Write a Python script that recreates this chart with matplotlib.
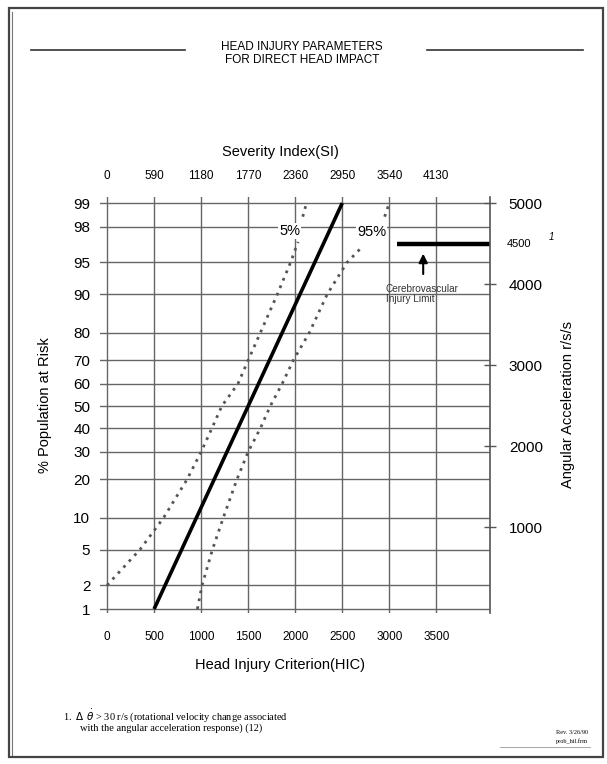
import numpy as np
import matplotlib
matplotlib.use("Agg")
from matplotlib import pyplot as plt
from matplotlib.patches import Rectangle
from statistics import NormalDist

# values
pct_ticks = [1, 2, 5, 10, 20, 30, 40, 50, 60, 70, 80, 90, 95, 98, 99]
hic_ticks = [0, 500, 1000, 1500, 2000, 2500, 3000, 3500]
si_ticks = [0, 590, 1180, 1770, 2360, 2950, 3540, 4130]
acc_ticks = [1000, 2000, 3000, 4000, 5000]

# 50% (mean) curve
hic_mean = [500, 2500]
pct_mean = [1, 99]

# 5% confidence curve (lower part and short upper piece)
hic_5 = [0, 350, 600, 850, 1000, 1115, 1220, 1390, 1500, 1630, 1810, 1950, 2030]
pct_5 = [2, 5, 10, 20, 30, 40, 50, 60, 70, 80, 90, 95, 97]
hic_5_top = [2080, 2120]
pct_5_top = [98.5, 99]

# 95% confidence curve
hic_95 = [960, 1010, 1120, 1235, 1380, 1500, 1630, 1735, 1860, 1980, 2150, 2340, 2550, 2700]
pct_95 = [1, 2, 5, 10, 20, 30, 40, 50, 60, 70, 80, 90, 95, 96.5]
hic_95_top = [2950, 3000]
pct_95_top = [98.5, 99]

# cerebrovascular injury limit
limit_acc = 4500
limit_hic_start = 3080

W, H = 607, 764
_nd = NormalDist()


def to_z(p):
    p = np.clip(np.asarray(p, dtype=float), 1e-6, 100 - 1e-6)
    return np.vectorize(lambda v: _nd.inv_cdf(v / 100), otypes=[float])(p)


def from_z(z):
    return np.vectorize(lambda v: _nd.cdf(v) * 100, otypes=[float])(np.asarray(z, dtype=float))


def px(x, y):
    return x / W, 1 - y / H


plt.rcParams['font.family'] = ['Liberation Sans', 'DejaVu Sans']
fig = plt.figure(figsize=(W / 100, H / 100), dpi=100)

# page frame of the scanned sheet
fig.patches.append(Rectangle(px(9, 757), 594 / W, 749 / H, transform=fig.transFigure,
                             fill=False, ec='#444444', lw=1.6))
fig.add_artist(plt.Line2D([12 / W] * 2, [1 - 12 / H, 1 - 755 / H], color='#777777', lw=0.8))

ax = fig.add_axes([100 / W, 1 - 613 / H, 390 / W, 416 / H])
ax.set_yscale('function', functions=(to_z, from_z))
ax.set_xlim(-75, 4070)
ax.set_ylim(0.885, 99.17)
ax.set_yticks(pct_ticks)
ax.set_yticklabels([str(p) for p in pct_ticks])
ax.set_xticks(hic_ticks)
ax.set_xticklabels([str(h) for h in hic_ticks])
ax.yaxis.set_minor_locator(matplotlib.ticker.NullLocator())
ax.grid(True, color='#666666', lw=1.0)
ax.tick_params(axis='y', length=0, pad=7, labelsize=11)
ax.tick_params(axis='x', length=0, pad=13, labelsize=8.5)
for s in ax.spines.values():
    s.set_visible(False)

ax.plot(hic_mean, pct_mean, color='black', lw=2.6, solid_capstyle='butt')
dot = dict(color='#555555', lw=2.0, linestyle=(0, (1, 1.9)))
ax.plot(hic_5, pct_5, **dot)
ax.plot(hic_5_top, pct_5_top, **dot)
ax.plot(hic_95, pct_95, **dot)
ax.plot(hic_95_top, pct_95_top, **dot)

box = dict(facecolor='white', edgecolor='none', pad=0.5)
ax.text(1940, 97.75, '5%', fontsize=10.5, ha='center', va='center', bbox=box)
ax.text(2810, 97.7, '95%', fontsize=10.5, ha='center', va='center', bbox=box)

sec = ax.secondary_xaxis('top', functions=(lambda h: h * 1.18, lambda s: s / 1.18))
sec.set_xticks(si_ticks)
sec.set_xticklabels([str(s) for s in si_ticks])
sec.tick_params(length=0, pad=11, labelsize=8.5)
sec.spines['top'].set_visible(False)

ax2 = ax.twinx()
ax2.set_ylim(-60, 5075)
ax2.set_yticks(acc_ticks)
ax2.set_yticklabels([str(a) for a in acc_ticks])
ax2.tick_params(axis='y', direction='inout', length=9, width=1.0, color='#555555',
                pad=9, labelsize=11)
for name, s in ax2.spines.items():
    s.set_visible(name == 'right')
ax2.spines['right'].set_color('#555555')
ax2.spines['right'].set_linewidth(1.2)

ax2.hlines(limit_acc, limit_hic_start, ax.get_xlim()[1], color='black', lw=3.2)
ax2.annotate('', xy=(3360, 4410), xytext=(3360, 4090),
             arrowprops=dict(arrowstyle='-|>', color='black', lw=1.5, mutation_scale=13))
ax2.text(2960, 4000, 'Cerebrovascular\nInjury Limit', fontsize=7.2, ha='left', va='top',
         linespacing=1.0, color='#333333')
ax2.annotate(str(limit_acc), xy=(1.0, limit_acc), xycoords=('axes fraction', 'data'),
             xytext=(12, 0), textcoords='offset points', fontsize=8, va='center')
ax2.annotate('1', xy=(1.0, limit_acc), xycoords=('axes fraction', 'data'),
             xytext=(42, 5), textcoords='offset points', fontsize=7, va='center',
             style='italic')

# header and axis titles
fig.text(*px(302, 47), 'HEAD INJURY PARAMETERS', fontsize=8.5, ha='center', va='center')
fig.text(*px(302, 60), 'FOR DIRECT HEAD IMPACT', fontsize=8.5, ha='center', va='center')
fig.add_artist(plt.Line2D([31 / W, 185 / W], [1 - 50 / H] * 2, color='#333333', lw=1.2))
fig.add_artist(plt.Line2D([427 / W, 583 / W], [1 - 50 / H] * 2, color='#333333', lw=1.2))
fig.text(*px(280, 152), 'Severity Index(SI)', fontsize=10.5, ha='center', va='center')
fig.text(*px(280, 665), 'Head Injury Criterion(HIC)', fontsize=10.5, ha='center', va='center')
fig.text(*px(45, 405), '% Population at Risk', fontsize=10.5, ha='center', va='center',
         rotation=90)
fig.text(*px(568, 405), 'Angular Acceleration r/s/s', fontsize=10.5, ha='center', va='center',
         rotation=90)

# footnote
serif = ['Liberation Serif', 'DejaVu Serif']
fig.text(*px(63, 716), r'1.  $\Delta\ \dot{\theta}$ > 30 r/s (rotational velocity change associated',
         fontsize=7.5, family=serif, va='center')
fig.text(*px(80, 728), 'with the angular acceleration response) (12)', fontsize=7.5,
         family=serif, va='center')
fig.text(*px(588, 733), 'Rev. 3/26/90', fontsize=4.5, family=serif, ha='right', va='center')
fig.text(*px(588, 741), 'prob_hil.frm', fontsize=4.5, family=serif, ha='right', va='center')
fig.add_artist(plt.Line2D([500 / W, 590 / W], [1 - 747 / H] * 2, color='#999999', lw=0.6))

fig.savefig('out.png', dpi=100, facecolor='white')
